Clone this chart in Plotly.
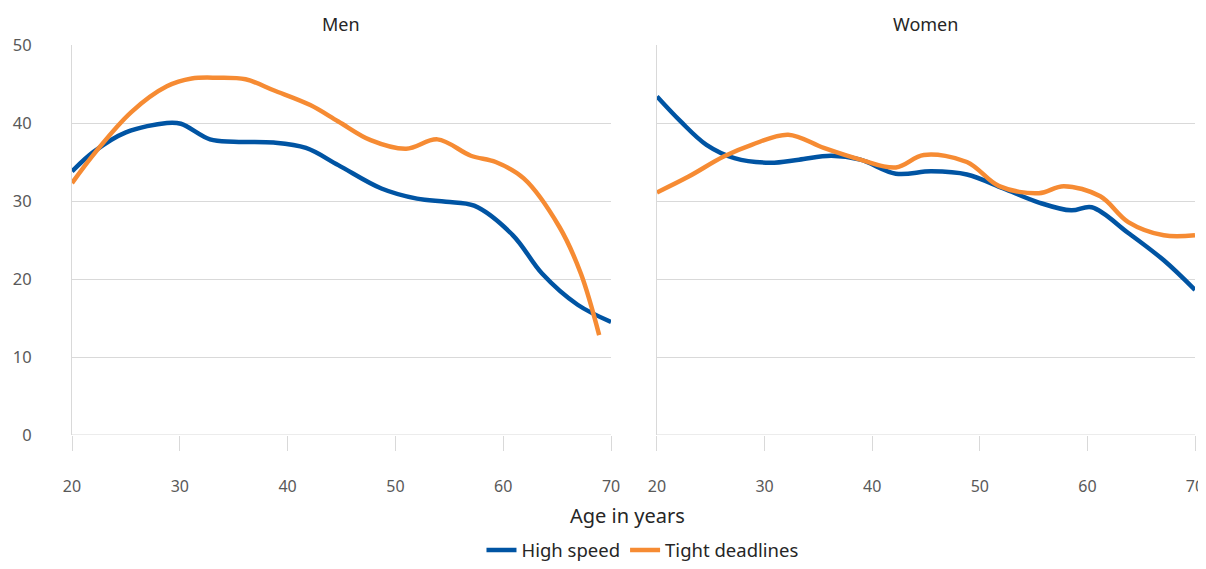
import plotly.graph_objects as go
from plotly.subplots import make_subplots

# Men
men_hs_age = [20.0, 22.0, 25.0, 28.8, 30.1, 32.8, 35.0, 38.7, 41.7, 44.7, 48.7, 52.0, 54.7, 57.3, 60.9, 63.6, 66.9, 70.0]
men_hs_val = [33.8, 36.3, 38.8, 40.0, 39.9, 37.9, 37.6, 37.5, 36.8, 34.6, 31.6, 30.3, 29.9, 29.4, 25.6, 20.7, 16.7, 14.5]
men_td_age = [20.0, 22.2, 25.5, 28.8, 31.1, 33.5, 36.1, 38.7, 42.1, 44.7, 47.7, 51.0, 53.9, 57.0, 59.3, 61.9, 65.2, 67.2, 68.9]
men_td_val = [32.3, 36.3, 41.4, 44.7, 45.7, 45.8, 45.6, 44.2, 42.3, 40.2, 37.8, 36.7, 37.9, 35.8, 35.0, 32.9, 26.7, 20.7, 12.8]

# Women
wom_hs_age = [20.0, 22.2, 24.6, 27.2, 30.5, 33.2, 36.2, 38.9, 42.2, 45.5, 48.8, 52.2, 55.5, 58.5, 60.4, 63.8, 67.1, 70.0]
wom_hs_val = [43.4, 40.2, 37.2, 35.5, 34.9, 35.3, 35.8, 35.3, 33.5, 33.8, 33.4, 31.6, 29.8, 28.8, 29.2, 25.9, 22.4, 18.6]
wom_td_age = [20.0, 22.9, 26.2, 28.8, 32.2, 35.5, 38.9, 42.2, 44.8, 48.8, 51.8, 55.5, 57.8, 61.2, 63.8, 67.1, 70.0]
wom_td_val = [31.1, 33.1, 35.7, 37.2, 38.5, 36.8, 35.3, 34.3, 35.9, 35.0, 31.9, 31.0, 31.9, 30.6, 27.3, 25.6, 25.6]

panel_titles = ["Men", "Women"]
series_names = ["High speed", "Tight deadlines"]
x_ticks = [20, 30, 40, 50, 60, 70]
y_ticks = [0, 10, 20, 30, 40, 50]

BLUE = "#0054a3"
ORANGE = "#f68b33"
GRID = "#d9d9d9"
FONT = "Noto Sans"

fig = make_subplots(rows=1, cols=2, horizontal_spacing=0.041, subplot_titles=panel_titles)

fig.add_trace(go.Scatter(x=men_hs_age, y=men_hs_val, mode="lines", name=series_names[0],
                         line=dict(color=BLUE, width=4.5, shape="spline", smoothing=1.0),
                         legendgroup="hs"), row=1, col=1)
fig.add_trace(go.Scatter(x=men_td_age, y=men_td_val, mode="lines", name=series_names[1],
                         line=dict(color=ORANGE, width=4.5, shape="spline", smoothing=1.0),
                         legendgroup="td"), row=1, col=1)
fig.add_trace(go.Scatter(x=wom_hs_age, y=wom_hs_val, mode="lines", name=series_names[0],
                         line=dict(color=BLUE, width=4.5, shape="spline", smoothing=1.0),
                         legendgroup="hs", showlegend=False), row=1, col=2)
fig.add_trace(go.Scatter(x=wom_td_age, y=wom_td_val, mode="lines", name=series_names[1],
                         line=dict(color=ORANGE, width=4.5, shape="spline", smoothing=1.0),
                         legendgroup="td", showlegend=False), row=1, col=2)

for c in (1, 2):
    fig.update_xaxes(range=[20, 70], tickvals=x_ticks, showgrid=False, zeroline=False,
                     showline=False, ticks="outside", ticklen=15, tickwidth=1, tickcolor=GRID,
                     ticklabelstandoff=22, automargin=False, ticklabeloverflow="allow",
                     tickfont=dict(family=FONT, size=16, color="#595959"), row=1, col=c)
    fig.update_yaxes(range=[0, 50], tickvals=y_ticks, showgrid=True, gridcolor=GRID, gridwidth=1,
                     zeroline=False, showline=True, linecolor=GRID, linewidth=1,
                     ticks="", showticklabels=(c == 1), ticklabelstandoff=36, automargin=False,
                     tickfont=dict(family=FONT, size=16.5, color="#595959"), row=1, col=c)

fig.update_xaxes(domain=[0, 0.48], row=1, col=1)
fig.update_xaxes(domain=[0.5209, 1.0], row=1, col=2)

# zero baseline as gridline
for c in (1, 2):
    fig.add_hline(y=0, line=dict(color=GRID, width=1), row=1, col=c)

for ann in fig.layout.annotations:
    ann.font = dict(family=FONT, size=18, color="#262626")
    ann.y = 1.0
    ann.yanchor = "middle"
    ann.yshift = 21

fig.add_annotation(text="Age in years", xref="paper", yref="paper", x=0.495, y=0, yshift=-80,
                   showarrow=False, font=dict(family=FONT, size=20, color="#262626"),
                   xanchor="center", yanchor="middle")

fig.update_layout(
    width=1198, height=553,
    margin=dict(l=64, r=11, t=37, b=126, autoexpand=False),
    paper_bgcolor="white", plot_bgcolor="white",
    font=dict(family=FONT, color="#262626"),
    legend=dict(orientation="h", x=0.508, xanchor="center", y=-0.296, yanchor="middle",
                yref="paper", font=dict(family=FONT, size=18.5, color="#262626"),
                itemwidth=30, tracegroupgap=0),
    showlegend=True,
)

fig.write_html("out.html")
